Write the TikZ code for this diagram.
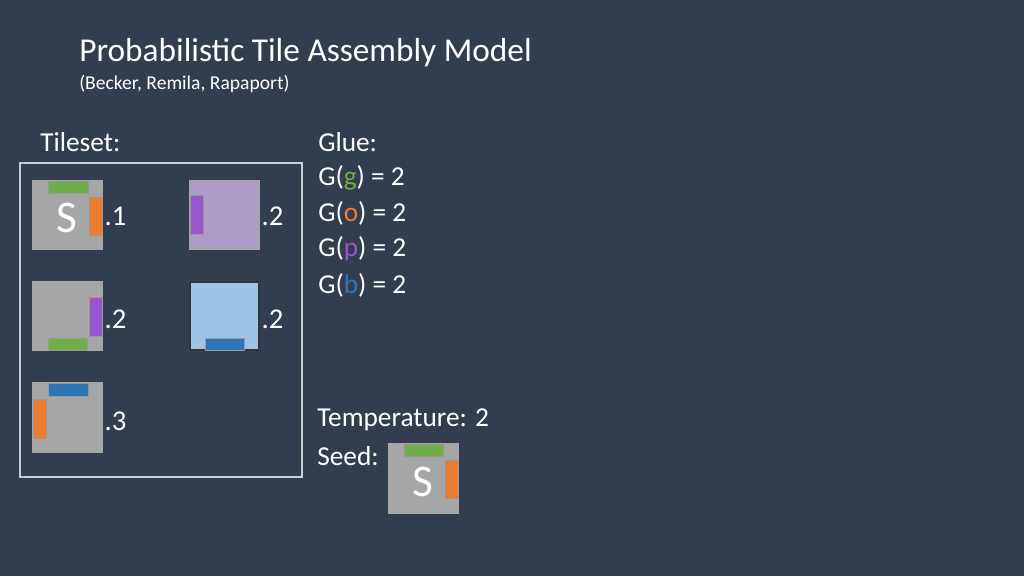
\documentclass[tikz,border=0pt]{standalone}
\usepackage{fontspec}
\setmainfont{Carlito}
\definecolor{bg}{HTML}{333D50}
\definecolor{tilegray}{HTML}{A6A6A6}
\definecolor{tilepurple}{HTML}{AE9CC8}
\definecolor{tileblue}{HTML}{9DC3E6}
\definecolor{gluegreen}{HTML}{70AD47}
\definecolor{glueorange}{HTML}{ED7D31}
\definecolor{gluepurple}{HTML}{9955CC}
\definecolor{glueblue}{HTML}{2E75B6}
\tikzset{
  tile/.style={draw=gray!70, line width=0.8pt, fill=tilegray},
  glue/.style={draw=black!40, line width=0.3pt},
  prob/.style={text=white, font=\fontsize{21.5}{24}\selectfont, anchor=west},
  txt/.style={text=white, font=\fontsize{20.5}{24}\selectfont, anchor=west, inner sep=0pt},
}
\begin{document}
\begin{tikzpicture}[x=0.75pt,y=-0.75pt]
\fill[bg] (0,0) rectangle (1024,576);
\useasboundingbox (0,0) rectangle (1024,576);

\node[txt, font=\fontsize{25}{28}\selectfont] (title) at (79,53) {Probabilistic Tile Assembly Model};
\node[txt, font=\fontsize{14.7}{17}\selectfont] (authors) at (79,84) {(Becker, Remila, Rapaport)};
\node[txt] (tileset) at (40,142) {Tileset:};

\draw[white!75!bg, line width=0.8pt] (20,163) rectangle (302,477);

% tile with seed
\draw[tile] (33,181) rectangle (102,249);
\draw[glue, fill=gluegreen] (48,181) rectangle (88,193);
\draw[glue, fill=glueorange] (89,197) rectangle (102,235);
\node[text=white, font=\fontsize{34}{34}\selectfont] (s1) at (67,218) {S};
\node[prob] (p1) at (100,216) {.1};

\draw[tile, fill=tilepurple] (190,181) rectangle (259,249);
\draw[glue, fill=gluepurple] (190,195) rectangle (203,234);
\node[prob] (p2) at (257,216) {.2};

\draw[tile] (33,282) rectangle (102,350);
\draw[glue, fill=gluepurple] (89,297) rectangle (102,336);
\draw[glue, fill=gluegreen] (48,338) rectangle (87,350);
\node[prob] (p3) at (100,319) {.2};

\draw[tile, draw=black!80, fill=tileblue] (190,282) rectangle (259,350);
\draw[glue, fill=glueblue] (205,338) rectangle (244,350);
\node[prob] (p4) at (257,319) {.2};

\draw[tile] (33,383) rectangle (102,452);
\draw[glue, fill=glueblue] (48,383) rectangle (88,396);
\draw[glue, fill=glueorange] (33,399) rectangle (46,438);
\node[prob] (p5) at (100,421) {.3};

% glue strengths
\node[txt] (glue) at (318,142) {Glue:};
\node[txt] (gg) at (318,178) {G(\textcolor{gluegreen}{g}) = 2};
\node[txt] (go) at (318,213) {G(\textcolor{glueorange}{o}) = 2};
\node[txt] (gp) at (318,249) {G(\textcolor{gluepurple}{p}) = 2};
\node[txt] (gb) at (318,285) {G(\textcolor{glueblue}{b}) = 2};

\node[txt] (temp) at (317,420) {Temperature: 2};
\node[txt] (seed) at (317,456) {Seed:};

\draw[tile] (389,444) rectangle (458,513);
\draw[glue, fill=gluegreen] (404,444) rectangle (443,456);
\draw[glue, fill=glueorange] (445,460) rectangle (458,498);
\node[text=white, font=\fontsize{34}{34}\selectfont] (s2) at (423,482) {S};
\end{tikzpicture}
\end{document}
